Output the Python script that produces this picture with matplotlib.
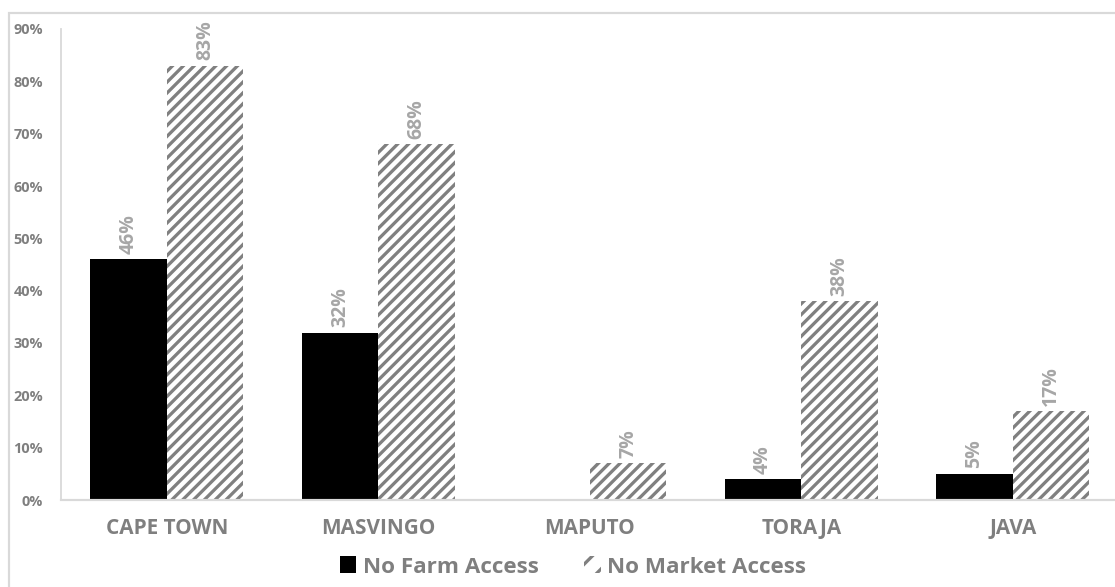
import numpy as np
import matplotlib
matplotlib.use("Agg")
import matplotlib.pyplot as plt
from matplotlib.patches import Rectangle, Patch

# Share of households without access, by site
sites = ["CAPE TOWN", "MASVINGO", "MAPUTO", "TORAJA", "JAVA"]
no_farm = [0.46, 0.32, 0.00, 0.04, 0.05]
no_market = [0.83, 0.68, 0.07, 0.38, 0.17]
yticks = [0.0, 0.1, 0.2, 0.3, 0.4, 0.5, 0.6, 0.7, 0.8, 0.9]

plt.rcParams["font.family"] = ["Open Sans", "DejaVu Sans"]
plt.rcParams["hatch.linewidth"] = 1.8

DPI = 130
W, H = 1115, 587
fig = plt.figure(figsize=(W / DPI, H / DPI), dpi=DPI)

label_grey = "#7f7f7f"
value_grey = "#a6a6a6"
hatch_grey = "#808080"
line_grey = "#d9d9d9"

# chart area border (runs off the right and bottom edge)
fig.patches.append(Rectangle((9 / W, -0.1), 1.2, 1 - 13 / H + 0.1,
                             transform=fig.transFigure, fill=False,
                             edgecolor=line_grey, linewidth=1.2))

ax = fig.add_axes([61 / W, (H - 500) / H, 1057.5 / W, 471 / H])

x = np.arange(len(sites))
w = 0.362
farm_bars = ax.bar(x - w / 2, no_farm, w, color="black", linewidth=0)
market_bars = ax.bar(x + w / 2, no_market, w, color="white",
                     edgecolor=hatch_grey, hatch="////", linewidth=0)

# rotated value labels above each bar
for bars, vals in [(farm_bars, no_farm), (market_bars, no_market)]:
    for b, v in zip(bars, vals):
        if v <= 0:
            continue
        ax.annotate(f"{v * 100:.0f}%", (b.get_x() + b.get_width() / 2, v),
                    xytext=(0, 3), textcoords="offset points",
                    rotation=90, ha="center", va="bottom",
                    fontsize=10.8, fontweight="bold", color=value_grey)

ax.set_xlim(-0.5, len(sites) - 0.5)
ax.set_ylim(0, 0.9)
ax.set_yticks(yticks)
ax.set_yticklabels([f"{t * 100:.0f}%" for t in yticks])
ax.set_xticks(x)
ax.set_xticklabels(sites)

ax.tick_params(axis="y", length=0, pad=10, labelsize=8, labelcolor=label_grey)
ax.tick_params(axis="x", length=0, pad=10, labelsize=11.5, labelcolor=label_grey)
for lbl in ax.get_xticklabels() + ax.get_yticklabels():
    lbl.set_fontweight("bold")

for side in ["top", "right"]:
    ax.spines[side].set_visible(False)
ax.spines["left"].set_color(line_grey)
ax.spines["bottom"].set_color(line_grey)
ax.spines["left"].set_linewidth(1.0)
ax.spines["bottom"].set_linewidth(1.2)

handles = [Patch(facecolor="black", linewidth=0),
           Patch(facecolor="white", edgecolor=hatch_grey, hatch="//", linewidth=0)]
leg = fig.legend(handles, ["No Farm Access", "No Market Access"],
                 loc="center", bbox_to_anchor=(573 / W, (H - 567) / H),
                 ncol=2, frameon=False, handlelength=0.75, handleheight=0.75,
                 handletextpad=0.3, columnspacing=2.0,
                 prop={"size": 12.4, "weight": "bold"})
for t in leg.get_texts():
    t.set_color(label_grey)

fig.savefig("out.png", dpi=DPI, facecolor="white")
